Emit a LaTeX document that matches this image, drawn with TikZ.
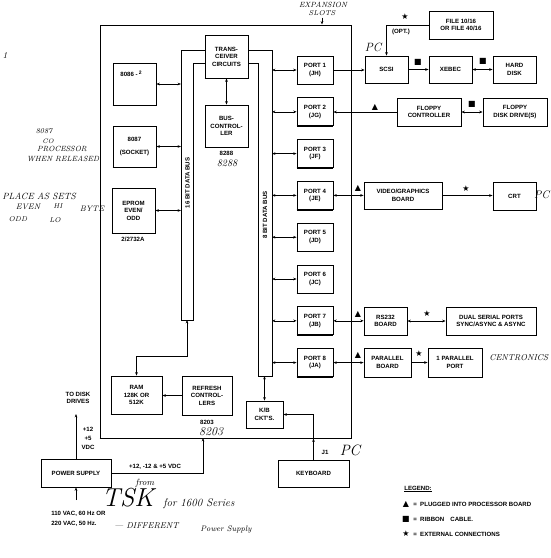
\documentclass[tikz,border=0pt]{standalone}
\usepackage{fontspec}
\usetikzlibrary{arrows.meta}
\newfontfamily\pr{Liberation Sans}
\newfontfamily\sym{DejaVu Sans}
\begin{document}
\begin{tikzpicture}[x=1pt,y=-1pt,
  >={Stealth[length=3.4pt,width=2.6pt]},
  line width=0.6pt,
  bx/.style={draw,line width=0.8pt,inner sep=0,align=center,
    font=\pr\bfseries\fontsize{6.1}{7.6}\selectfont,
    append after command={(\tikzlastnode.south west) edge[line width=1.6pt] (\tikzlastnode.south east)}},
  t/.style={inner sep=0,align=center,font=\pr\bfseries\fontsize{6.1}{7.4}\selectfont},
  hw/.style={inner sep=0,font=\itshape\fontsize{7.5}{9}\selectfont},
  sy/.style={inner sep=0,font=\sym\fontsize{8}{8}\selectfont},
  ]
\path[use as bounding box] (0,0) rectangle (550,558);
\clip (0,0) rectangle (550,558);

% board frame
\node[draw,line width=1pt,minimum width=251,minimum height=413,inner sep=0] (board) at (225.5,231.5) {};
\draw[line width=1.8pt] (board.south west) -- (board.south east);

% processor side boxes
\node[bx,minimum width=43,minimum height=42] (cpu) at (134.5,84) {};
\node[t] (cpul) at (131,74) {8086 -\,\raisebox{2.5pt}{\fontsize{5}{5}\selectfont 2}};
\node[bx,minimum width=43,minimum height=41] (fpu) at (134.5,146.5) {8087\\[6pt](SOCKET)};
\node[bx,minimum width=43,minimum height=45] (eprom) at (133.5,210.5) {EPROM\\EVEN/\\ODD};
\node[t] (epromp) at (133,239) {2/2732A};
\node[bx,minimum width=43,minimum height=43] (trans) at (226.5,56.5) {TRANS-\\CEIVER\\CIRCUITS};
\node[bx,minimum width=43,minimum height=42] (busctl) at (226.5,126) {BUS-\\CONTROL-\\LER};
\node[t] (busp) at (226.5,153) {8288};
\node[hw,font=\itshape\fontsize{10}{10}\selectfont] (bush) at (227,163) {8288};
\node[bx,minimum width=51,minimum height=38] (ram) at (136.5,395) {RAM\\128K OR\\512K};
\node[bx,minimum width=50,minimum height=39] (refresh) at (207,395.5) {REFRESH\\CONTROL-\\LERS};
\node[t] (refp) at (207,422) {8203};
\node[hw,font=\itshape\fontsize{12}{12}\selectfont] (refh) at (211,432) {8203};
\node[bx,minimum width=37,minimum height=27] (kb) at (264.5,414.5) {K/B\\CKT'S.};

% buses
\coordinate (b16l) at (181,50);
\coordinate (b16r) at (193,63);
\draw[line width=0.8pt] (trans.west |- b16l) -- (b16l) -- (181,320) -- (193,320) -- (b16r) -- (trans.west |- b16r);
\coordinate (b8r) at (272,50);
\coordinate (b8l) at (258,63);
\draw[line width=0.8pt] (trans.east |- b8r) -- (b8r) -- (272,376) -- (258,376) -- (b8l) -- (trans.east |- b8l);
\node[t,rotate=90] (l16) at (187.5,183) {16 BIT DATA BUS};
\node[t,rotate=90] (l8) at (265,215) {8 BIT DATA BUS};

\draw[<->] (cpu.east) -- (cpu.east -| b16l);
\draw[<->] (fpu.east) -- (fpu.east -| b16l);
\draw[<->] (eprom.east) -- (eprom.east -| b16l);
\draw[<->] (trans.south) -- (busctl.north);
\coordinate (b16b) at (187,320);
\coordinate (j16) at (187,356);
\draw[<->] (b16b) -- (j16) -| (ram.north);
\draw[->] (refresh.west) -- (refresh.west -| ram.east);
\coordinate (b8b) at (264.5,376);
\draw[<->] (b8b) -- (kb.north);

% ports
\foreach \i/\y/\j in {1/70/H,2/111.8/G,3/153.6/F,4/195.4/E,5/237.2/D,6/279/C,7/320.8/B,8/362.6/A}{
  \node[bx,minimum width=36,minimum height=28] (p\i) at (315,\y) {PORT \i\\(J\j)};
  \draw[<->] (p\i.west -| b8r) -- (p\i.west);
}

% expansion slots
\node[hw,font=\itshape\fontsize{7.5}{7.5}\selectfont] (exp) at (323,4.5) {EXPANSION};
\node[hw,font=\itshape\fontsize{7}{7}\selectfont] (slots) at (322,13) {SLOTS};
\coordinate (slt) at (322,17.5);
\draw[->] (slt) -- (slt |- board.north);

% external devices
\node[bx,minimum width=43,minimum height=27] (scsi) at (386.5,69.5) {SCSI};
\node[bx,minimum width=43,minimum height=27] (xebec) at (450.5,69.5) {XEBEC};
\node[bx,minimum width=43,minimum height=27] (hd) at (514.5,69.5) {HARD\\DISK};
\node[bx,minimum width=64,minimum height=28] (file) at (461,25) {FILE 10/16\\OR FILE 40/16};
\node[bx,minimum width=64,minimum height=28] (fctl) at (429,112) {FLOPPY\\CONTROLLER};
\node[bx,minimum width=64,minimum height=28] (fdd) at (515,112) {FLOPPY\\DISK DRIVE(S)};
\node[bx,minimum width=78,minimum height=27] (video) at (403,195.5) {VIDEO/GRAPHICS\\BOARD};
\node[bx,minimum width=43,minimum height=28] (crt) at (514.5,196) {CRT};
\node[bx,minimum width=43,minimum height=28] (rs) at (385.5,321) {RS232\\BOARD};
\node[bx,minimum width=90,minimum height=28] (dual) at (491,321) {DUAL SERIAL PORTS\\SYNC/ASYNC \& ASYNC};
\node[bx,minimum width=47,minimum height=29] (par) at (387.5,362.5) {PARALLEL\\BOARD};
\node[bx,minimum width=54,minimum height=29] (pport) at (455,362.5) {1 PARALLEL\\PORT};

\draw[->] (p1.east) -- (p1.east -| scsi.west);
\draw[->] (file.west) -| (scsi.north);
\node[sy] (st0) at (405,17) {★};
\node[t] (opt) at (401,32) {(OPT.)};
\node[hw,font=\itshape\fontsize{12}{12}\selectfont] (pc1) at (373,47) {PC};
\draw[->] (scsi.east) -- (xebec.west);
\node[sy] (rb1) at (418,62) {■};
\draw[<->] (xebec.east) -- (hd.west);
\node[sy] (rb2) at (483,61) {■};
\draw[->] (fctl.west) -- (fctl.west -| p2.east);
\node[sy] (tr2) at (375,107) {▲};
\draw[<->] (fctl.east) -- (fdd.west);
\node[sy] (rb3) at (472,104) {■};
\draw[<->] (p4.east) -- (p4.east -| video.west);
\node[sy] (tr4) at (358,188) {▲};
\draw[->] (video.east) -- (video.east -| crt.west);
\node[sy] (st4) at (466,189) {★};
\node[hw,font=\itshape\fontsize{11}{11}\selectfont,anchor=east] (pc2) at (549.5,195) {PC};
\draw[<->] (p7.east) -- (p7.east -| rs.west);
\node[sy] (tr7) at (358,314) {▲};
\draw[<->] (rs.east) -- (dual.west);
\node[sy] (st7) at (427,314) {★};
\draw[<->] (p8.east) -- (p8.east -| par.west);
\node[sy] (tr8) at (358,355) {▲};
\draw[->] (par.east) -- (pport.west);
\node[sy] (st8) at (419,354) {★};
\node[hw,font=\itshape\fontsize{8.5}{8.5}\selectfont,anchor=west] (cen) at (489,358) {CENTRONICS};

% keyboard
\node[bx,minimum width=71,minimum height=27] (kbd) at (313.5,473.5) {KEYBOARD};
\draw[->] (kbd.north) -- (kbd.north |- board.south);
\draw[->] (kbd.north |- board.south) |- (kb.east);
\node[t] (j1) at (325,452) {J1};
\node[hw,font=\itshape\fontsize{15}{15}\selectfont] (pc3) at (350,450) {PC};

% power supply
\node[bx,minimum width=70,minimum height=28] (ps) at (76,473) {POWER SUPPLY};
\coordinate (tdk) at (76,414);
\draw[->] (ps.north) -- (tdk);
\node[t] (todisk) at (78,398) {TO DISK\\DRIVES};
\node[t,font=\pr\bfseries\fontsize{6.1}{9}\selectfont] (v1) at (88,438) {+12\\+5\\VDC};
\coordinate (pin) at (203,438);
\draw[->] (ps.east) -| (pin);
\node[t] (vl) at (155,467) {+12, -12 \& +5 VDC};
\coordinate (ac) at (76,500);
\draw[->] (ac) -- (ps.south);
\node[t,align=left,anchor=west,font=\pr\bfseries\fontsize{6.1}{10}\selectfont] (acl) at (51,519) {110 VAC, 60 Hz OR\\220 VAC, 50 Hz.};

% handwritten notes
\node[hw,font=\itshape\fontsize{9}{9}\selectfont] (n1) at (5,55) {1};
\node[hw] (n2) at (44,131) {8087};
\node[hw,font=\itshape\fontsize{6.5}{6.5}\selectfont] (n3) at (48,141) {CO};
\node[hw] (n4) at (62,149) {PROCESSOR};
\node[hw] (n5) at (63,159) {WHEN RELEASED};
\node[hw,font=\itshape\fontsize{9}{9}\selectfont,anchor=east] (n6) at (76,196) {PLACE AS SETS};
\node[hw,font=\itshape\fontsize{8}{8}\selectfont] (n7) at (28,207) {EVEN};
\node[hw,font=\itshape\fontsize{7}{7}\selectfont] (n8) at (58,206) {HI};
\node[hw,font=\itshape\fontsize{8}{8}\selectfont] (n9) at (92,209) {BYTE};
\node[hw,font=\itshape\fontsize{7}{7}\selectfont] (n10) at (18,219) {ODD};
\node[hw,font=\itshape\fontsize{7}{7}\selectfont] (n11) at (55,220) {LO};
\node[hw,font=\itshape\fontsize{9}{9}\selectfont] (n12) at (145,483) {from};
\node[hw,font=\itshape\fontsize{26}{26}\selectfont] (n13) at (128,498) {TSK};
\node[hw,font=\itshape\fontsize{11}{11}\selectfont,anchor=west] (n14) at (163,504) {for 1600 Series};
\node[hw,font=\itshape\fontsize{8.5}{8.5}\selectfont,anchor=west] (n15) at (114,526) {--- DIFFERENT};
\node[hw,font=\itshape\fontsize{8}{8}\selectfont,anchor=west] (n16) at (200,529) {Power Supply};

% legend
\node[t,anchor=west] (lg) at (404,489) {\underline{LEGEND:}};
\node[sy] (lg1s) at (406,504) {▲};
\node[t,anchor=west] (lg1) at (413,504) {=\ \ PLUGGED INTO PROCESSOR BOARD};
\node[sy] (lg2s) at (406,519) {■};
\node[t,anchor=west] (lg2) at (413,519) {=\ \ RIBBON\quad CABLE.};
\node[sy] (lg3s) at (406,534) {★};
\node[t,anchor=west] (lg3) at (413,534) {=\ \ EXTERNAL CONNECTIONS};
\end{tikzpicture}
\end{document}
